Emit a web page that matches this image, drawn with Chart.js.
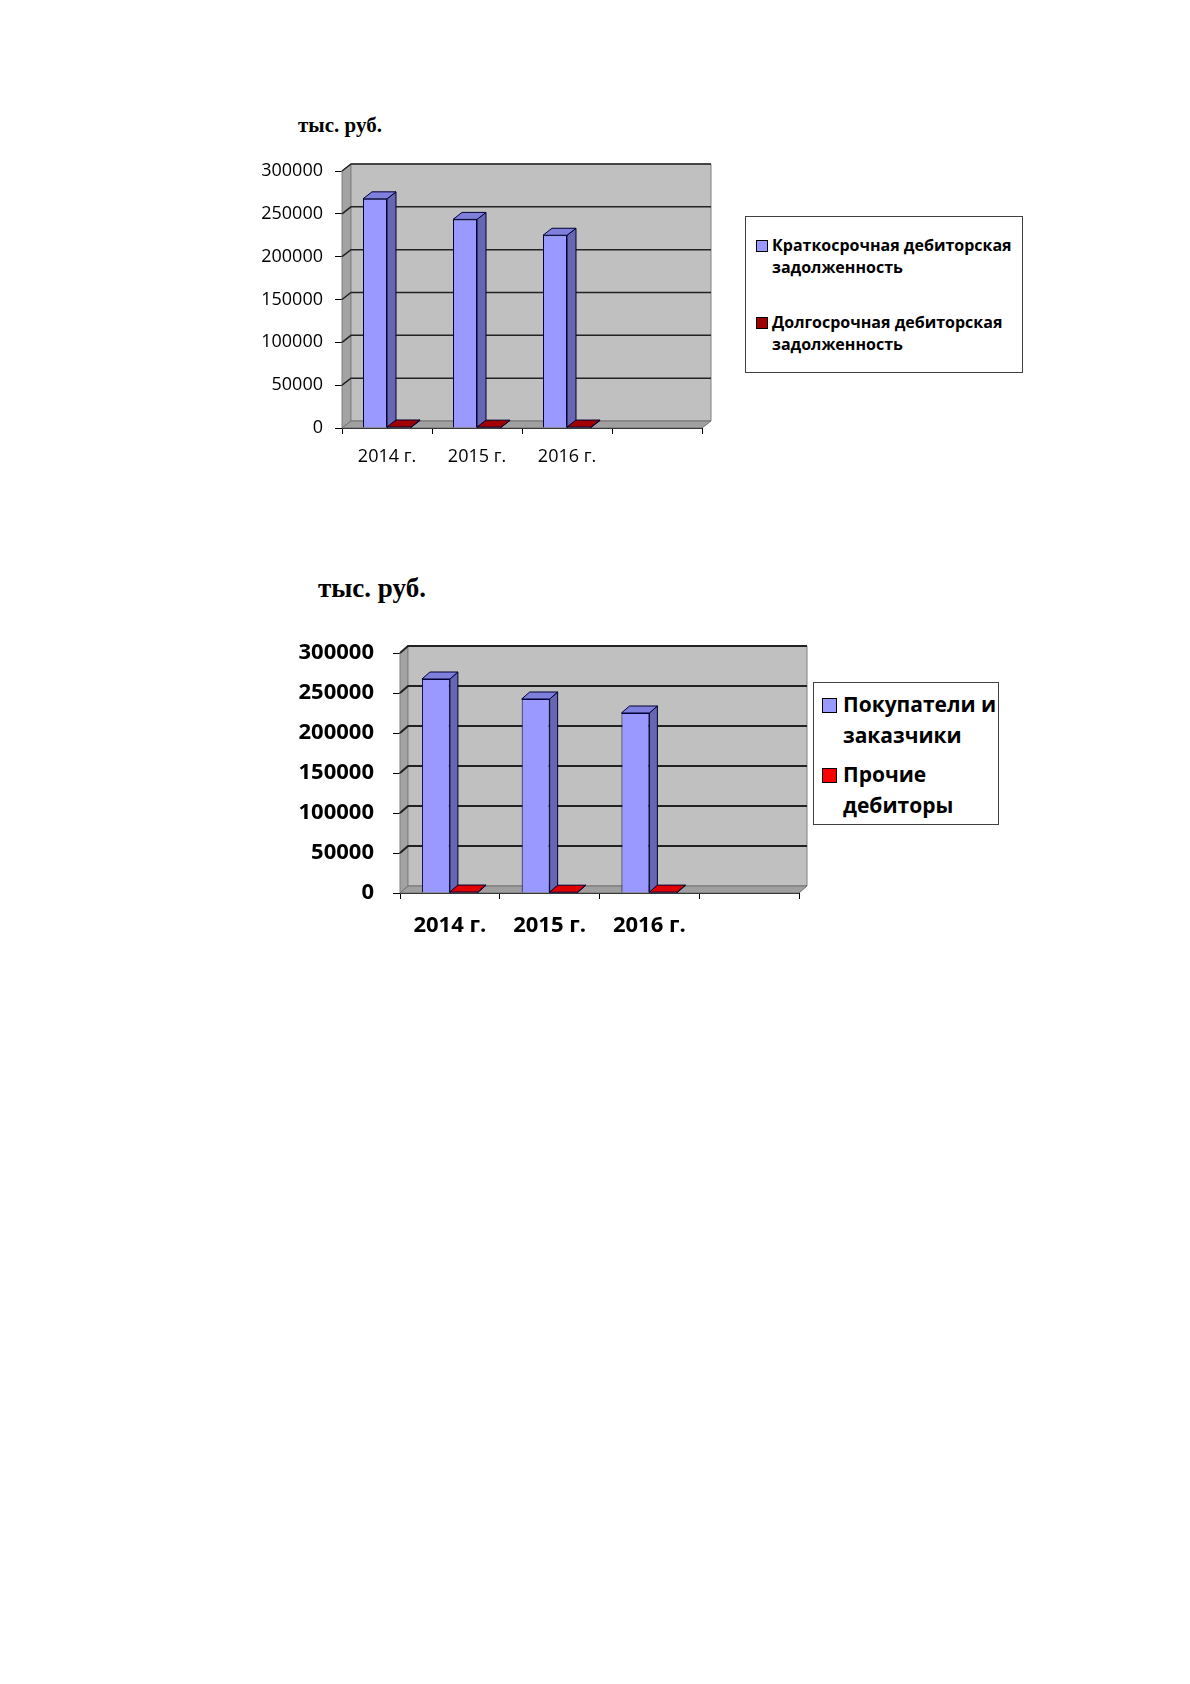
<!DOCTYPE html>
<html>
<head>
<meta charset="utf-8">
<script src="https://cdn.jsdelivr.net/npm/chart.js@4/dist/chart.umd.min.js"></script>
<style>
  body { margin: 0; background: #fff; }
  #page { position: relative; width: 1190px; height: 1684px; background: #fff; overflow: hidden; }
  canvas { position: absolute; }
  .title { position: absolute; font-family: "Liberation Serif", serif; font-weight: bold; color: #000; white-space: nowrap; }
  .legend { position: absolute; border: 1px solid #404040; background: #fff; box-sizing: border-box; }
  .item { position: absolute; font-family: "Open Sans", sans-serif; font-weight: bold; color: #000; white-space: nowrap; }
  .sq { position: absolute; border: 1px solid #000; box-sizing: border-box; }
</style>
</head>
<body>
<div id="page">
  <div class="title" style="left:298px; top:112px; font-size:21px; line-height:26px;">тыс. руб.</div>
  <canvas id="chart1" width="500" height="340" style="left:230px; top:140px;"></canvas>
  <div class="legend" style="left:745px; top:216px; width:278px; height:157px;">
    <div class="sq" style="left:10px; top:23px; width:12px; height:12px; background:#9999ff;"></div>
    <div class="item" style="left:26px; top:17px; font-size:16px; line-height:22px;">Краткосрочная дебиторская<br>задолженность</div>
    <div class="sq" style="left:10px; top:100px; width:12px; height:12px; background:#a00000;"></div>
    <div class="item" style="left:26px; top:94px; font-size:16px; line-height:22px;">Долгосрочная дебиторская<br>задолженность</div>
  </div>

  <div class="title" style="left:318px; top:572px; font-size:27px; line-height:32px;">тыс. руб.</div>
  <canvas id="chart2" width="560" height="330" style="left:260px; top:620px;"></canvas>
  <div class="legend" style="left:813px; top:682px; width:186px; height:143px;">
    <div class="sq" style="left:8px; top:15px; width:15px; height:15px; background:#9999ff;"></div>
    <div class="item" style="left:29px; top:6px; font-size:21px; line-height:31px;">Покупатели и<br>заказчики</div>
    <div class="sq" style="left:8px; top:85px; width:15px; height:15px; background:#ff0000;"></div>
    <div class="item" style="left:29px; top:76px; font-size:21px; line-height:31px;">Прочие<br>дебиторы</div>
  </div>
</div>
<script>
const years = ['2014 г.', '2015 г.', '2016 г.', ''];
const yTicks = [0, 50000, 100000, 150000, 200000, 250000, 300000];

// chart 1
const shortTerm = [267500, 243500, 225000];
const longTerm = [1200, 1000, 1100];
// chart 2
const buyers = [267500, 242500, 225000];
const others = [1200, 1000, 1100];

// walls, floor and gridlines of the 3D box
const wall3d = {
    id: 'wall3d',
    beforeDatasetsDraw(chart, args, opts) {
        const {ctx, chartArea: a, scales: {y}} = chart;
        const dx = opts.dx, dy = opts.dy;
        ctx.save();
        const poly = (pts, fill, stroke) => {
            ctx.beginPath();
            pts.forEach((p, i) => i ? ctx.lineTo(p[0], p[1]) : ctx.moveTo(p[0], p[1]));
            ctx.closePath();
            ctx.fillStyle = fill;
            ctx.fill();
            if (stroke) { ctx.strokeStyle = stroke; ctx.lineWidth = 1; ctx.stroke(); }
        };
        poly([[a.left, a.bottom], [a.left, a.top], [a.left + dx, a.top - dy], [a.left + dx, a.bottom - dy]], '#a3a3a3', '#808080');
        poly([[a.left + dx, a.top - dy], [a.right + dx, a.top - dy], [a.right + dx, a.bottom - dy], [a.left + dx, a.bottom - dy]], '#c0c0c0', '#808080');
        poly([[a.left, a.bottom], [a.right, a.bottom], [a.right + dx, a.bottom - dy], [a.left + dx, a.bottom - dy]], '#a0a0a0', '#707070');
        ctx.strokeStyle = '#222';
        ctx.lineWidth = opts.gridWidth;
        y.ticks.forEach(t => {
            if (t.value === 0) return;
            const py = y.getPixelForValue(t.value);
            ctx.beginPath();
            ctx.moveTo(a.left, py);
            ctx.lineTo(a.left + dx, py - dy);
            ctx.lineTo(a.right + dx, py - dy);
            ctx.stroke();
        });
        ctx.restore();
    },
    afterDatasetsDraw(chart, args, opts) {
        const {ctx} = chart;
        const dx = opts.dx, dy = opts.dy;
        ctx.save();
        ctx.lineWidth = 1;
        ctx.strokeStyle = '#000033';
        const n = chart.data.labels.length;
        for (let k = 0; k < n; k++) {
            chart.data.datasets.forEach((ds, i) => {
                const bar = chart.getDatasetMeta(i).data[k];
                if (!bar || ds.data[k] === undefined) return;
                const {x, y, base, width} = bar.getProps(['x', 'y', 'base', 'width'], true);
                const l = x - width / 2, r = x + width / 2;
                ctx.beginPath();
                ctx.moveTo(r, y); ctx.lineTo(r + dx, y - dy); ctx.lineTo(r + dx, base - dy); ctx.lineTo(r, base);
                ctx.closePath();
                ctx.fillStyle = ds.sideColor; ctx.fill(); ctx.stroke();
                ctx.beginPath();
                ctx.moveTo(l, y); ctx.lineTo(l + dx, y - dy); ctx.lineTo(r + dx, y - dy); ctx.lineTo(r, y);
                ctx.closePath();
                ctx.fillStyle = ds.topColor; ctx.fill(); ctx.stroke();
            });
        }
        ctx.restore();
    }
};

function makeChart(id, series, cfg) {
    const font = {family: '"Open Sans", sans-serif', size: cfg.fontSize, weight: cfg.bold ? 'bold' : 'normal'};
    return new Chart(document.getElementById(id), {
        type: 'bar',
        data: {
            labels: years,
            datasets: series.map(s => ({
                data: s.data,
                backgroundColor: s.front,
                sideColor: s.side,
                topColor: s.top,
                borderColor: '#000033',
                borderWidth: 1,
                categoryPercentage: cfg.catPct,
                barPercentage: 1
            }))
        },
        options: {
            responsive: false,
            animation: false,
            layout: {padding: cfg.padding},
            plugins: {
                legend: {display: false},
                tooltip: {enabled: false},
                wall3d: {dx: cfg.dx, dy: cfg.dy, gridWidth: cfg.gridWidth}
            },
            scales: {
                x: {
                    grid: {offset: true, drawOnChartArea: false, drawTicks: true, tickLength: 6, color: '#000'},
                    border: {display: true, color: '#000'},
                    ticks: {color: '#000', font: font, padding: cfg.xPad, maxRotation: 0, autoSkip: false},
                    afterFit: s => { s.height = cfg.xHeight; }
                },
                y: {
                    min: 0,
                    max: 300000,
                    afterBuildTicks: s => { s.ticks = yTicks.map(v => ({value: v})); },
                    grid: {drawOnChartArea: false, drawTicks: true, tickLength: 7, color: '#000'},
                    border: {display: true, color: '#000'},
                    ticks: {color: '#000', font: font, padding: cfg.yPad, callback: v => String(v)},
                    afterFit: s => { s.width = cfg.yWidth; }
                }
            }
        },
        plugins: [wall3d]
    });
}

makeChart('chart1', [
    {data: shortTerm, front: '#9999ff', side: '#6666b3', top: '#7f7fdd'},
    {data: longTerm, front: '#a00000', side: '#700000', top: '#a00000'}
], {
    fontSize: 18, bold: false, catPct: 0.533, dx: 9, dy: 7, gridWidth: 1.5,
    padding: {top: 31, right: 28, left: 0, bottom: 0},
    xHeight: 52, yWidth: 112, xPad: 12, yPad: 12
});

makeChart('chart2', [
    {data: buyers, front: '#9999ff', side: '#6666b3', top: '#7f7fdd'},
    {data: others, front: '#ff0000', side: '#b00000', top: '#e00000'}
], {
    fontSize: 22, bold: true, catPct: 0.56, dx: 8, dy: 7, gridWidth: 2,
    padding: {top: 33, right: 21, left: 0, bottom: 0},
    xHeight: 57, yWidth: 140, xPad: 14, yPad: 19
});
</script>
</body>
</html>
